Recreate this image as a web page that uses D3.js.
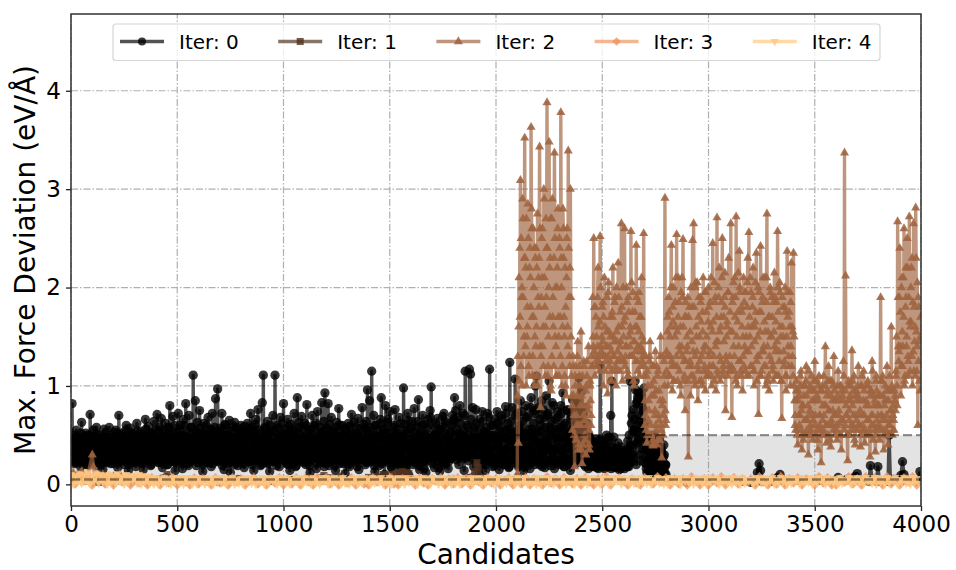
<!DOCTYPE html>
<html>
<head>
<meta charset="utf-8">
<title>Max. Force Deviation</title>
<script src="https://cdn.jsdelivr.net/npm/d3@7"></script>
<style>
  html, body { margin: 0; padding: 0; background: #fff; }
  svg { display: block; font-family: "DejaVu Sans", sans-serif; }
</style>
</head>
<body>
<div id="root"></div>
<script>
const xTicks = [0, 500, 1000, 1500, 2000, 2500, 3000, 3500, 4000];
const yTicks = [0, 1, 2, 3, 4];
const seriesLabels = ["Iter: 0", "Iter: 1", "Iter: 2", "Iter: 3", "Iter: 4"];
const seriesColors = ["#000000", "#50321f", "#9f6440", "#ef955f", "#ffc77f"];
const bandLow = 0.05;
const bandHigh = 0.5;

// iter 0: one value every 5 candidates, one row = 100 candidates
const iter0Values = [
  .38,.82,.30,.45,.22,.55,.34,.27,.48,.18,.63,.31,.42,.24,.52,.36,.20,.47,.71,.29,
  .33,.55,.24,.42,.58,.19,.37,.50,.27,.44,.15,.56,.31,.39,.22,.48,.58,.26,.35,.46,
  .21,.43,.55,.30,.17,.70,.38,.26,.52,.33,.20,.46,.60,.28,.14,.41,.57,.34,.23,.50,
  .37,.18,.62,.29,.45,.22,.54,.35,.15,.48,.66,.31,.25,.59,.40,.19,.52,.36,.64,.27,
  .44,.71,.23,.55,.34,.67,.17,.49,.30,.62,.41,.20,.58,.80,.26,.46,.69,.33,.14,.53,
  .38,.72,.24,.60,.43,.16,.66,.31,.82,.49,.21,.70,.36,.58,.27,1.11,.47,.85,.19,.63,
  .40,.75,.28,.53,.13,.62,.35,.46,.22,.68,.31,.56,.18,.72,.42,.26,.87,.50,.97,.33,
  .57,.24,.72,.40,.15,.61,.34,.50,.21,.65,.12,.44,.58,.30,.63,.26,.47,.19,.55,.37,
  .60,.28,.45,.17,.54,.35,.62,.23,.49,.72,.31,.58,.14,.43,.66,.27,.76,.38,.52,.20,
  .83,1.11,.34,.57,.22,.64,.41,.13,.55,.29,.70,.37,1.11,.25,.60,.46,.18,.68,.32,.52,
  .82,.30,.56,.21,.66,.39,.14,.61,.27,.50,.72,.35,.19,.88,.44,.58,.24,.69,.33,.48,
  .62,.20,.81,.37,.55,.12,.47,.70,.29,.60,.40,.16,.74,.34,.53,.23,.83,.43,.64,.93,
  .31,.57,.82,.19,.46,.68,.26,.54,.38,.14,.63,.33,.77,.21,.49,.60,.28,.42,.11,.55,
  .36,.62,.18,.50,.71,.30,.44,.23,.58,.34,.67,.15,.47,.26,.78,.40,.56,.20,.64,.96,
  .52,.85,.24,1.15,.41,.70,.13,.60,.33,.48,.19,.66,.88,.28,.55,.10,.80,.38,.63,.22,
  .74,.45,.16,.58,.30,.76,.21,.52,.36,.68,.13,.48,.25,.98,.61,.18,.40,.72,.09,.56,
  .33,.64,.20,.77,.44,.27,.58,.86,.15,.50,.36,.70,.23,.61,.12,.46,.66,.30,.75,.99,
  .38,.60,.17,.52,.28,.67,.42,.13,.56,.32,.69,.72,.22,.48,.62,.16,.40,.54,.26,.70,
  .64,.88,.75,.36,.68,.20,.80,.50,.28,.72,.14,1.15,.44,.60,.24,1.17,1.12,.34,.78,.18,
  .58,.76,.30,.48,.11,.66,.38,.74,.21,.54,.14,.43,.72,.27,1.17,.35,.60,.18,.50,.66,
  .28,.74,.42,.15,.58,.70,.33,.48,.20,.79,.36,.62,.17,1.24,.50,.78,.25,.45,1.07,.30,
  .72,.18,.56,.85,.34,.64,.14,.48,.80,.26,.69,.38,.16,.88,.52,.30,.75,1.00,1.10,.42,
  .78,.20,.60,.85,.31,.68,.17,.90,.45,.72,1.05,.24,.55,.83,.36,.16,.66,.47,.74,.22,
  .58,.80,.34,.93,.18,.62,.44,.75,.25,.50,.14,.70,.86,.38,.60,.21,.82,.46,1.08,.66,
  .30,.95,.55,.20,.78,.40,.62,.16,.48,.32,.42,.19,.36,.24,.46,.17,.38,.28,1.21,.44,
  .22,.40,.16,.34,.50,.25,.44,.18,.70,1.05,.30,.48,.17,.36,.26,.42,.15,.30,.38,.20,
  .28,.16,.35,.22,.44,.18,1.05,.26,.70,.38,.55,1.05,.20,.84,.46,.64,.24,.90,.36,.58,
  .22,.48,.12,.36,.08,.44,.20,.30,.10,.50,.16,.38,.07,.28,.46,.14,.32,.09,.40,.18
];
// the thick body of iter 0, candidates offset by 2 from the row above
const iter0BodyA = [
  .42,.28,.50,.21,.36,.46,.25,.40,.31,.52,.23,.44,.33,.48,.20,.38,.50,.27,.43,.34,
  .49,.22,.37,.30,.51,.26,.41,.47,.20,.35,.45,.29,.52,.24,.39,.32,.46,.21,.50,.36,
  .27,.53,.33,.44,.22,.40,.50,.28,.36,.47,.24,.55,.31,.42,.20,.48,.35,.52,.26,.38,
  .45,.23,.54,.34,.41,.28,.50,.21,.46,.37,.56,.25,.43,.32,.52,.20,.48,.39,.27,.55,
  .33,.47,.22,.58,.38,.44,.26,.53,.30,.49,.20,.57,.36,.42,.24,.51,.34,.60,.22,.46,
  .40,.28,.55,.21,.48,.35,.60,.25,.43,.52,.19,.46,.37,.58,.30,.41,.24,.54,.33,.49,
  .22,.57,.36,.44,.20,.51,.29,.60,.39,.25,.47,.34,.55,.21,.42,.58,.31,.48,.23,.53,
  .38,.45,.19,.56,.32,.60,.27,.43,.50,.22,.37,.54,.29,.46,.20,.58,.35,.41,.25,.52,
  .30,.47,.21,.59,.38,.26,.53,.44,.33,.56,.20,.49,.36,.61,.24,.42,.31,.55,.19,.46,
  .39,.27,.58,.34,.50,.21,.45,.60,.30,.37,.23,.54,.42,.19,.57,.33,.48,.26,.62,.40,
  .24,.51,.36,.45,.20,.59,.32,.49,.27,.55,.41,.18,.53,.38,.63,.25,.46,.34,.57,.22,
  .43,.60,.29,.50,.19,.37,.56,.26,.47,.35,.62,.21,.44,.31,.58,.24,.52,.40,.18,.55,
  .33,.48,.22,.61,.39,.27,.54,.43,.19,.58,.35,.46,.25,.60,.30,.50,.21,.41,.56,.28,
  .47,.20,.59,.37,.44,.24,.63,.32,.52,.18,.49,.38,.57,.26,.42,.61,.30,.46,.22,.55,
  .35,.58,.23,.48,.40,.19,.60,.31,.54,.27,.45,.62,.21,.50,.36,.57,.24,.43,.66,.29,
  .52,.18,.47,.38,.60,.25,.44,.56,.20,.33,.62,.28,.49,.37,.17,.55,.41,.65,.23,.46,
  .58,.30,.42,.22,.53,.36,.64,.19,.48,.27,.60,.39,.16,.51,.32,.57,.24,.44,.68,.35,
  .21,.50,.40,.62,.26,.46,.17,.55,.33,.59,.38,.20,.64,.29,.47,.23,.52,.42,.60,.30,
  .66,.36,.25,.56,.44,.28,.62,.34,.50,.26,.70,.38,.28,.58,.42,.30,.66,.48,.26,.54,
  .36,.62,.24,.46,.18,.56,.32,.64,.27,.44,.20,.58,.36,.68,.23,.50,.30,.60,.19,.46,
  .38,.62,.22,.54,.30,.66,.20,.48,.35,.72,.25,.56,.18,.44,.64,.28,.52,.36,.70,.24,
  .46,.20,.60,.33,.74,.26,.50,.18,.68,.38,.56,.22,.78,.30,.46,.62,.20,.72,.36,.54,
  .26,.66,.42,.18,.76,.34,.58,.22,.70,.40,.50,.19,.64,.32,.80,.24,.56,.38,.68,.20,
  .48,.72,.28,.60,.18,.54,.36,.76,.24,.44,.66,.20,.58,.32,.74,.26,.52,.40,.80,.30,
  .64,.22,.72,.36,.18,.58,.28,.50,.20,.38,.26,.44,.18,.32,.24,.40,.16,.30,.46,.22,
  .34,.18,.44,.26,.36,.20,.48,.28,.16,.38,.22,.30,.18,.26,.36,.20,.28,.16,.24,.32,
  .20,.30,.18,.26,.36,.50,.22,.62,.30,.76,.66,.96,.52,.88,.44,.92,.60,.80,.74,.98,
  .36,.16,.42,.26,.12,.34,.46,.18,.28,.40,.10,.32,.22,.44,.14,.36,.24,.12,.30,.20
];
// candidates offset by 4, the core of the blob
const iter0BodyB = [
  .30,.44,.24,.36,.48,.28,.40,.22,.34,.46,.30,.42,.26,.38,.49,.24,.33,.44,.29,.37,
  .45,.26,.40,.32,.22,.47,.36,.29,.43,.25,.38,.48,.30,.23,.41,.34,.27,.46,.32,.24,
  .38,.48,.28,.35,.42,.23,.46,.31,.26,.40,.36,.49,.24,.33,.44,.28,.38,.22,.47,.30,
  .26,.41,.36,.50,.24,.32,.44,.28,.38,.23,.47,.34,.27,.42,.30,.49,.25,.37,.44,.31,
  .46,.26,.38,.33,.22,.49,.35,.28,.43,.24,.40,.31,.50,.27,.36,.45,.23,.39,.32,.47,
  .28,.42,.35,.24,.50,.31,.38,.26,.46,.33,.41,.23,.48,.29,.37,.44,.25,.52,.34,.28,
  .43,.31,.24,.47,.36,.27,.40,.50,.22,.35,.45,.29,.38,.26,.52,.33,.42,.24,.48,.31,
  .27,.39,.46,.32,.23,.50,.36,.28,.43,.34,.25,.48,.38,.30,.44,.22,.41,.52,.29,.36,
  .46,.25,.39,.33,.50,.27,.43,.31,.23,.47,.36,.29,.53,.24,.40,.34,.45,.26,.38,.30,
  .22,.48,.35,.27,.44,.31,.52,.25,.41,.37,.29,.46,.23,.39,.50,.32,.27,.43,.35,.48,
  .30,.42,.24,.37,.46,.28,.53,.34,.22,.40,.47,.31,.26,.44,.36,.50,.29,.23,.41,.34,
  .48,.27,.39,.32,.45,.24,.52,.36,.28,.43,.30,.47,.25,.38,.50,.33,.22,.42,.29,.37,
  .44,.26,.35,.50,.31,.41,.24,.47,.33,.28,.39,.53,.27,.36,.45,.23,.40,.32,.48,.29,
  .34,.43,.25,.38,.51,.30,.27,.46,.36,.24,.42,.33,.49,.28,.37,.45,.23,.40,.31,.47,
  .26,.39,.44,.32,.24,.50,.36,.28,.42,.34,.47,.23,.38,.30,.45,.26,.52,.33,.41,.27,
  .36,.48,.24,.43,.31,.50,.28,.37,.22,.44,.33,.47,.26,.40,.30,.53,.25,.38,.46,.32,
  .27,.42,.35,.49,.23,.39,.31,.45,.28,.52,.36,.24,.43,.33,.48,.26,.40,.30,.46,.34,
  .42,.28,.50,.33,.24,.44,.37,.29,.46,.22,.40,.52,.31,.36,.26,.47,.34,.42,.28,.38,
  .48,.38,.30,.44,.52,.36,.46,.30,.42,.54,.34,.46,.38,.30,.50,.40,.32,.44,.36,.48,
  .32,.44,.28,.38,.24,.46,.34,.50,.26,.40,.30,.52,.24,.36,.46,.28,.42,.22,.38,.48,
  .26,.44,.36,.22,.50,.30,.42,.26,.54,.34,.46,.24,.38,.56,.30,.44,.22,.36,.48,.28,
  .40,.54,.24,.36,.46,.22,.52,.32,.42,.26,.48,.34,.22,.56,.38,.28,.44,.52,.24,.36,
  .46,.28,.54,.34,.22,.42,.50,.30,.40,.24,.58,.36,.46,.26,.34,.52,.22,.44,.30,.48,
  .36,.24,.56,.42,.28,.38,.50,.22,.46,.32,.54,.26,.40,.36,.24,.48,.30,.58,.38,.26,
  .46,.30,.40,.24,.34,.28,.22,.38,.26,.18,.32,.24,.36,.20,.30,.26,.22,.34,.28,.18,
  .26,.32,.22,.28,.18,.34,.24,.20,.30,.26,.18,.36,.24,.20,.30,.18,.26,.22,.28,.20,
  .26,.20,.32,.18,.28,.22,.40,.30,.24,.54,.56,.82,.42,.94,.30,.70,.86,.54,.76,.62,
  .28,.20,.34,.14,.26,.38,.18,.30,.12,.24,.36,.18,.28,.14,.32,.22,.16,.28,.12,.20
];
const iter0TailCandidates = [2800,2815,2900,3000,3157,3200,3225,3230,3238,3245,3252,3300,3325,3337,3350,3430,3517,3530,3610,3650,3690,3700,3710,3755,3762,3770,3790,3797,3805,3845,3850,3856,3870,3900,3905,3913,3920,3925,3985,3995];
const iter0TailValues = [.10,.03,.02,.02,.03,.02,.03,.12,.21,.14,.03,.03,.07,.10,.04,.04,.05,.04,.07,.05,.08,.11,.04,.03,.19,.05,.03,.18,.03,.03,.50,.03,.05,.04,.09,.23,.10,.04,.03,.13];

const iter1Candidates = [0,60,130,200,290,370,452,520,610,700,790,860,930,1030,1120,1190,1270,1340,1400,1437,1470,1530,1545,1560,1575,1590,1620,1700,1790,1860,1900,1910,1915,1930,2000,2080,2105,2120];
const iter1Values = [.03,.06,.02,.07,.04,.05,.10,.03,.05,.02,.06,.04,.03,.05,.07,.09,.08,.03,.07,.08,.10,.11,.12,.13,.12,.11,.05,.04,.06,.07,.12,.22,.17,.06,.04,.05,.08,.03];

const iter2HeadCandidates = [10,30,50,65,80,100,105,115,150,170,200,230,260,400,700,1000,1500,1900,2095];
const iter2HeadValues = [.12,.10,.13,.06,.10,.30,.18,.07,.10,.06,.08,.10,.05,.04,.03,.03,.05,.05,.03];
// iter 2: one value every 5 candidates from 2100, one row = 100 candidates
const iter2Values = [
  .10,.42,1.05,3.09,1.9,2.9,1.3,3.52,2.2,1.5,2.85,1.1,2.4,3.63,1.7,2.6,1.0,2.3,1.6,2.75,
  2.1,3.43,.78,2.5,1.4,3.0,1.8,2.7,3.88,1.2,3.48,2.3,.95,2.9,1.6,3.37,2.0,1.1,2.6,1.5,
  2.4,3.78,1.0,2.8,1.7,2.2,.9,2.6,3.39,1.3,3.0,1.1,.55,.9,.18,1.2,.6,1.45,.4,1.0,
  1.55,.21,.8,1.2,.45,1.0,.6,1.4,.35,.85,1.3,1.9,2.50,1.1,1.7,1.2,2.2,1.3,2.52,1.35,
  1.8,1.0,2.1,1.3,1.55,.92,2.05,1.4,1.7,1.15,2.2,1.3,1.9,1.0,1.45,2.25,1.25,1.75,2.65,1.05,
  1.5,2.6,1.3,2.0,1.1,1.75,1.4,2.57,1.3,1.95,1.0,1.6,2.43,1.25,1.85,1.1,1.4,2.1,1.3,2.55,
  .6,1.3,.42,1.0,.75,1.45,.5,1.2,.39,.9,1.35,.55,1.1,.7,.45,1.5,.27,.85,1.25,2.91,
  .65,1.3,1.0,1.75,1.3,2.43,.95,2.0,1.2,1.6,2.54,1.05,1.85,1.35,.9,2.1,2.49,1.25,.75,1.7,
  1.4,.28,1.8,.9,1.2,2.48,2.65,1.0,2.05,1.35,.85,1.9,1.25,1.65,1.0,2.1,1.4,.95,1.75,1.15,
  2.0,1.2,1.6,1.0,2.45,1.3,1.85,.95,2.71,1.45,2.2,1.05,1.7,2.5,1.2,1.9,.75,1.5,1.1,2.3,
  1.3,2.65,.68,1.9,1.15,1.7,2.72,1.0,2.15,2.37,1.25,1.8,.95,2.1,1.4,1.95,1.1,2.3,2.56,1.5,
  1.95,1.2,2.2,1.0,1.65,2.35,1.3,.71,1.75,2.42,1.15,1.9,1.4,2.1,1.0,2.75,1.55,.95,2.0,1.25,
  1.7,1.05,2.15,1.35,1.85,2.57,1.1,2.05,1.5,.67,1.8,1.2,2.0,.95,2.37,1.4,1.75,1.0,2.25,1.3,
  2.35,.85,.55,1.05,.4,.9,.7,1.15,.35,.8,1.0,.5,1.2,.65,.3,.95,.6,1.1,.45,.85,
  1.25,.5,.9,.35,1.1,.7,.22,1.0,.55,.8,1.40,.42,.95,1.2,.6,.38,1.05,.75,1.3,.5,
  .85,.45,1.15,.62,1.0,.35,.9,1.25,3.37,2.12,.7,.24,1.05,.5,.85,1.36,.6,1.1,.4,.95,
  .55,1.2,.7,.38,1.0,.6,1.15,.42,.85,.5,1.05,.65,.28,.95,1.25,.45,.8,.33,1.1,.58,
  .9,.45,1.90,.7,1.1,.35,.85,.55,1.2,.4,.95,.65,1.6,.5,.8,.95,.75,1.5,2.67,1.25,
  2.4,.9,2.1,1.4,2.6,1.1,1.9,2.5,1.25,2.72,1.6,2.2,1.0,2.65,1.45,2.81,1.15,.6,1.8,.95
];
// body of the iter 2 clusters, candidates offset by 2 from the row above
const iter2BodyA = [
  .9,1.6,2.4,1.2,2.0,2.7,1.5,2.3,1.0,1.8,2.5,1.3,2.1,2.8,1.1,1.7,2.4,1.4,2.2,1.0,
  1.8,2.6,1.3,2.1,1.6,2.9,1.1,1.9,2.4,1.5,2.2,1.0,2.7,1.7,1.2,2.5,1.4,2.0,2.8,1.1,
  1.7,2.3,1.2,2.6,1.5,1.0,2.1,1.6,2.4,1.2,1.9,.9,1.3,.7,1.1,.45,.9,.6,1.2,.8,
  .35,1.1,.7,.5,.95,1.25,.75,.4,1.05,.6,1.2,1.5,1.35,1.8,1.25,1.4,1.6,1.15,2.0,1.3,
  1.45,1.7,1.15,1.4,1.9,1.3,1.55,1.25,1.05,1.75,1.5,1.45,1.2,2.0,1.35,1.6,1.15,1.45,1.8,1.25,
  1.65,1.2,1.4,1.85,1.1,1.5,1.6,1.3,1.75,1.05,1.45,1.35,1.9,1.15,1.55,1.7,1.2,1.5,1.35,1.1,
  .85,.55,1.15,.65,1.25,.5,.9,.4,1.05,.7,.6,1.2,.45,.95,1.3,.6,.8,.5,1.1,.75,
  1.15,1.55,1.9,1.1,1.6,1.25,1.8,1.05,1.5,2.1,1.2,1.7,1.4,1.0,1.95,1.3,1.6,1.1,1.85,1.35,
  1.05,1.7,1.25,2.0,1.45,1.1,1.8,1.3,1.6,2.05,1.15,1.5,1.9,1.05,1.75,1.35,1.2,1.95,1.5,1.1,
  1.8,1.35,2.1,1.2,1.65,1.05,1.9,1.45,1.15,2.0,1.55,1.25,1.85,1.1,1.7,2.15,1.3,1.6,1.95,1.2,
  1.75,1.15,1.55,2.05,1.3,1.9,1.1,1.65,1.4,2.0,1.15,1.75,1.5,1.2,1.95,1.35,1.8,1.6,1.1,2.1,
  1.4,1.8,1.15,1.6,2.05,1.25,1.5,1.95,1.1,1.75,1.35,2.1,1.2,1.55,1.85,1.05,1.7,1.3,1.95,1.5,
  1.15,1.85,1.4,1.65,1.1,2.0,1.35,1.6,1.05,1.9,1.5,1.25,1.75,1.1,1.95,1.3,1.6,1.85,1.2,1.55,
  1.0,.6,.85,.5,.95,.7,1.1,.55,.8,.45,1.0,.65,.9,.5,1.15,.75,.55,.95,.7,1.05,
  .6,.85,.45,1.0,.7,.55,.95,.65,1.1,.5,.8,.6,1.05,.75,.45,.9,.6,1.0,.7,.85,
  .55,1.0,.7,.85,.5,.95,.65,1.1,.6,.8,.5,1.0,.75,.9,.55,1.05,.7,.45,.9,.65,
  1.0,.6,.85,.5,1.1,.7,.95,.55,.8,.65,1.0,.5,.9,.7,1.15,.6,.85,.5,.95,.7,
  .8,.55,1.05,.65,.9,.5,1.0,.7,.85,.6,1.1,.75,.95,.55,.65,.85,1.15,1.0,1.9,1.35,
  1.75,1.2,1.55,2.1,1.0,1.8,1.4,2.2,1.1,1.65,2.0,1.3,1.85,1.15,1.6,2.3,1.4,1.9,1.05,1.5
];
// second body layer, candidates offset by 3
const iter2BodyB = [
  1.3,2.1,1.7,2.5,1.0,1.9,2.3,1.4,2.7,1.6,1.2,2.2,1.8,2.6,1.3,2.0,1.5,2.4,1.1,1.9,
  2.3,1.4,1.9,2.6,1.2,2.1,1.6,2.4,1.1,2.0,1.7,2.7,1.3,1.9,2.3,1.5,1.1,2.2,1.7,2.5,
  1.3,2.0,1.6,2.3,1.1,1.8,2.5,1.4,1.9,2.2,1.5,.8,1.2,.5,1.0,.7,1.3,.35,1.1,.6,
  .9,.4,1.25,.65,.3,1.1,.8,.55,1.0,.7,1.2,1.4,1.8,1.3,1.5,1.9,1.25,1.65,1.4,1.5,
  1.85,1.3,1.6,1.25,1.4,1.95,1.2,1.5,1.35,1.7,1.3,1.85,1.15,1.55,1.25,1.9,1.4,1.3,1.6,2.0,
  1.25,1.7,1.4,1.15,1.9,1.3,1.55,2.05,1.3,1.45,1.75,1.25,1.6,1.4,1.95,1.35,1.7,1.25,1.45,1.2,
  .7,1.1,.5,.85,1.3,.6,1.0,.45,1.2,.75,.95,.4,1.15,.65,.85,.55,1.3,.7,1.0,.6,
  1.35,1.7,1.1,1.5,2.0,1.2,1.65,1.05,1.85,1.3,1.55,2.1,1.15,1.6,1.4,1.9,1.05,1.7,1.25,1.5,
  1.9,1.2,1.55,1.1,1.8,1.35,1.05,2.0,1.5,1.2,1.7,1.05,1.85,1.3,1.55,1.15,1.95,1.4,1.1,1.65,
  1.3,1.85,1.1,1.55,1.2,2.05,1.4,1.7,1.1,1.9,1.3,1.6,2.1,1.15,1.45,1.8,1.25,1.65,1.95,1.15,
  1.55,1.2,1.85,1.4,2.1,1.05,1.5,1.75,1.25,1.95,1.1,1.6,1.3,1.85,1.15,1.5,2.05,1.35,1.7,1.2,
  1.6,1.9,1.15,1.45,1.75,1.05,2.0,1.3,1.55,1.1,1.85,1.35,1.65,1.2,2.1,1.4,1.1,1.7,1.5,1.9,
  1.2,1.55,1.9,1.1,1.45,1.75,1.25,1.95,1.05,1.6,1.35,1.8,1.1,1.5,1.7,1.2,1.95,1.4,1.6,1.1,
  1.5,.7,.95,.55,.85,.6,1.0,.75,.5,.9,.65,1.05,.55,.8,.7,1.0,.5,.85,.65,.95,
  .7,1.05,.55,.85,.6,.95,.5,.8,.7,1.0,.6,.9,.5,.75,1.05,.65,.85,.55,.95,.7,
  .6,.9,.75,.5,1.0,.65,.85,.55,.95,.7,.5,.85,.65,1.0,.6,.8,.95,.55,.7,.85,
  .9,.6,.75,1.0,.55,.85,.7,.5,1.0,.65,.8,.55,.95,.6,.7,.9,.55,1.05,.65,.8,
  .6,.9,.7,1.05,.55,.8,.65,.95,.5,.85,.6,.75,1.0,.7,.55,.9,1.1,.8,1.4,1.9,
  1.4,2.0,1.2,1.7,1.05,2.2,1.5,1.3,1.9,1.15,1.65,2.3,1.35,1.8,1.1,1.55,2.05,1.25,1.45,1.7
];

// iter 3: one value every 20 candidates, one row = 200 candidates
const iter3Values = [
  .08,.00,.10,.03,.09,-.01,.11,.05,.00,.09,
  -.01,.08,.02,.07,-.01,.07,.01,.06,-.01,.07,
  .03,-.01,.06,.01,.07,-.01,.05,.02,-.01,.07,
  .00,.06,.03,-.01,.07,.01,.05,-.01,.07,.02,
  .06,-.01,.04,.07,.00,.03,-.01,.06,.01,.07,
  -.01,.05,.00,.07,-.01,.06,.02,-.01,.07,.03,
  .07,.00,.04,-.01,.06,.01,.07,-.01,.05,.00,
  -.01,.07,.02,.05,-.01,.07,.00,-.01,.06,.03,
  .05,-.01,.07,.01,-.01,.06,.03,.07,-.01,.04,
  .00,.07,.00,.06,-.01,.05,.02,-.01,.07,.01,
  .06,-.01,.04,.07,-.01,.05,.00,.07,-.01,.06,
  .02,-.01,.08,.01,.06,-.01,.07,.03,.00,.06,
  -.01,.07,.02,-.01,.06,.00,.08,-.01,.05,.07,
  .03,-.01,.06,.01,-.01,.07,.04,.00,.08,.02,
  .07,-.01,.06,.00,.06,-.01,.08,.03,-.01,.06,
  -.01,.07,.01,.08,-.01,.05,.07,.00,.06,.02,
  .06,-.01,.08,.02,-.01,.07,.00,.08,-.01,.06,
  .01,.07,-.01,.06,.03,-.01,.08,.01,.07,-.01,
  -.01,.06,.02,.08,.00,.06,-.01,.08,.02,.07,
  .04,-.01,.08,.00,.06,-.01,.07,.02,.08,-.01
];
// iter 4: one value every 10 candidates, one row = 200 candidates
const iter4Values = [
  .10,.00,.09,.02,.11,.01,.10,.03,.12,.00,.09,.04,.11,.01,.10,.03,.09,.00,.10,.02,
  .09,.01,.11,.03,.08,.00,.10,.02,.09,.04,.08,.01,.10,.00,.09,.03,.08,.01,.07,.00,
  .07,.00,.06,.02,.07,.01,.06,.00,.07,.03,.06,.01,.07,.00,.06,.02,.07,.00,.06,.01,
  .07,.02,.06,.00,.07,.01,.05,.00,.07,.02,.06,.01,.07,.00,.06,.03,.07,.00,.05,.01,
  .06,.00,.07,.02,.06,.01,.07,.00,.05,.02,.07,.00,.06,.01,.07,.03,.06,.00,.07,.01,
  .06,.01,.07,.00,.05,.02,.07,.01,.06,.00,.07,.02,.06,.00,.07,.01,.05,.00,.07,.03,
  .07,.00,.06,.01,.07,.02,.06,.00,.07,.01,.05,.00,.06,.02,.07,.00,.06,.01,.07,.03,
  .06,.00,.07,.01,.06,.02,.07,.00,.05,.01,.07,.00,.06,.03,.07,.01,.06,.00,.07,.02,
  .05,.01,.07,.00,.06,.02,.07,.01,.06,.00,.07,.03,.05,.00,.07,.01,.06,.02,.07,.00,
  .07,.01,.06,.00,.07,.02,.05,.01,.07,.00,.06,.03,.07,.00,.06,.01,.07,.02,.06,.00,
  .06,.02,.07,.00,.05,.01,.07,.03,.06,.00,.07,.01,.06,.02,.07,.00,.05,.01,.07,.00,
  .07,.00,.06,.02,.07,.01,.06,.00,.07,.03,.05,.01,.07,.00,.06,.02,.07,.00,.06,.01,
  .06,.01,.07,.00,.06,.03,.07,.01,.05,.00,.07,.02,.06,.00,.07,.01,.06,.03,.07,.00,
  .07,.02,.05,.00,.07,.01,.06,.00,.07,.02,.06,.01,.07,.00,.05,.03,.07,.01,.06,.00,
  .06,.00,.07,.01,.06,.02,.07,.00,.06,.03,.07,.01,.05,.00,.07,.02,.06,.01,.07,.00,
  .07,.01,.06,.03,.07,.00,.05,.02,.07,.01,.06,.00,.07,.02,.06,.00,.07,.01,.05,.03,
  .05,.00,.07,.02,.06,.01,.07,.00,.06,.03,.07,.00,.05,.01,.07,.02,.06,.00,.07,.01,
  .07,.03,.06,.00,.07,.01,.05,.02,.07,.00,.06,.01,.07,.03,.06,.00,.07,.02,.05,.01,
  .06,.00,.07,.01,.05,.03,.07,.00,.06,.02,.07,.01,.06,.00,.07,.03,.05,.01,.07,.00,
  .07,.02,.06,.00,.07,.01,.06,.03,.07,.00,.05,.02,.07,.01,.06,.00,.07,.02,.06,.01
];

const width = 956, height = 570;
const margin = { left: 71, right: 35, top: 14, bottom: 64 };

const x = d3.scaleLinear().domain([0, 4000]).range([margin.left, width - margin.right]);
const y = d3.scaleLinear().domain([-0.22, 4.78]).range([height - margin.bottom, margin.top]);

function pairs(cands, vals) {
  return cands.map((c, i) => [c, vals[i]]);
}

const iter0Points = pairs(d3.range(0, 2800, 5), iter0Values)
  .concat(pairs(d3.range(2, 2800, 5), iter0BodyA))
  .concat(pairs(d3.range(4, 2800, 5), iter0BodyB))
  .concat(pairs(iter0TailCandidates, iter0TailValues))
  .sort((a, b) => a[0] - b[0]);

const iter2Points = pairs(iter2HeadCandidates, iter2HeadValues)
  .concat(pairs(d3.range(2100, 4000, 5), iter2Values))
  .concat(pairs(d3.range(2102, 4000, 5), iter2BodyA))
  .concat(pairs(d3.range(2103, 4000, 5), iter2BodyB))
  .sort((a, b) => a[0] - b[0]);

const diamond = { draw(ctx, size) {
  const r = Math.sqrt(size / 2);
  ctx.moveTo(0, -r); ctx.lineTo(r, 0); ctx.lineTo(0, r); ctx.lineTo(-r, 0); ctx.closePath();
} };

const series = [
  { marker: d3.symbolCircle, size: 68, lw: 3.4, alpha: 0.78, points: iter0Points },
  { marker: d3.symbolSquare, size: 50, lw: 3.4, alpha: 0.8, points: pairs(iter1Candidates, iter1Values) },
  { marker: d3.symbolTriangle, size: 36, lw: 3.4, alpha: 0.88, points: iter2Points },
  { marker: diamond, size: 38, lw: 3.4, alpha: 0.8, points: pairs(d3.range(0, 4000, 20), iter3Values) },
  { marker: d3.symbolTriangle, flip: true, size: 30, lw: 3.4, alpha: 0.8, points: pairs(d3.range(0, 4000, 10), iter4Values) }
];

const svg = d3.select("#root").append("svg")
  .attr("width", width)
  .attr("height", height);

svg.append("defs").append("clipPath").attr("id", "plot-clip").append("rect")
  .attr("x", x(0))
  .attr("y", y(4.78))
  .attr("width", x(4000) - x(0))
  .attr("height", y(-0.22) - y(4.78));

// grid
const grid = svg.append("g").attr("stroke", "#b0b0b0").attr("stroke-width", 1.2).attr("stroke-dasharray", "7 2 1.5 2");
grid.selectAll(".gx").data(xTicks).enter().append("line")
  .attr("x1", d => x(d)).attr("x2", d => x(d)).attr("y1", y(-0.22)).attr("y2", y(4.78));
grid.selectAll(".gy").data(yTicks).enter().append("line")
  .attr("x1", x(0)).attr("x2", x(4000)).attr("y1", d => y(d)).attr("y2", d => y(d));

const plot = svg.append("g").attr("clip-path", "url(#plot-clip)");

// shaded candidate window
plot.append("rect")
  .attr("x", x(0))
  .attr("width", x(4000) - x(0))
  .attr("y", y(bandHigh))
  .attr("height", y(bandLow) - y(bandHigh))
  .attr("fill", "#808080")
  .attr("fill-opacity", 0.22);

const lineGen = d3.line().x(d => x(d[0])).y(d => y(d[1]));

function symbolPath(s) {
  return d3.symbol().type(s.marker).size(s.size)();
}

series.forEach((s, i) => {
  const g = plot.append("g");
  g.append("path")
    .attr("d", lineGen(s.points))
    .attr("fill", "none")
    .attr("stroke", seriesColors[i])
    .attr("stroke-width", s.lw)
    .attr("stroke-opacity", 0.68)
    .attr("stroke-linejoin", "round");
  g.selectAll("path.mk").data(s.points).enter().append("path")
    .attr("class", "mk")
    .attr("d", symbolPath(s))
    .attr("transform", d => `translate(${x(d[0])},${y(d[1])})` + (s.flip ? " scale(1,-1)" : ""))
    .attr("fill", seriesColors[i])
    .attr("fill-opacity", s.alpha);
});

// dashed bounds
[bandHigh, bandLow].forEach(v => {
  plot.append("line")
    .attr("x1", x(0)).attr("x2", x(4000))
    .attr("y1", y(v)).attr("y2", y(v))
    .attr("stroke", "#000")
    .attr("stroke-opacity", 0.42)
    .attr("stroke-width", 2.4)
    .attr("stroke-dasharray", "9 4");
});

// axes
const xAxis = d3.axisBottom(x).tickValues(xTicks).tickFormat(d3.format("d")).tickSize(5).tickPadding(5);
const yAxis = d3.axisLeft(y).tickValues(yTicks).tickFormat(d3.format("d")).tickSize(5).tickPadding(5);

const gx = svg.append("g").attr("transform", `translate(0,${y(-0.22)})`).call(xAxis);
const gy = svg.append("g").attr("transform", `translate(${x(0)},0)`).call(yAxis);
[gx, gy].forEach(a => {
  a.selectAll("text").attr("font-family", "DejaVu Sans").attr("font-size", 23).attr("fill", "#000");
  a.selectAll(".tick line").attr("stroke", "#222").attr("stroke-width", 1.3);
  a.select(".domain").attr("stroke", "none");
});

svg.append("rect")
  .attr("x", x(0)).attr("y", y(4.78))
  .attr("width", x(4000) - x(0)).attr("height", y(-0.22) - y(4.78))
  .attr("fill", "none").attr("stroke", "#333").attr("stroke-width", 1.5);

svg.append("text")
  .attr("x", (x(0) + x(4000)) / 2).attr("y", 563.5)
  .attr("text-anchor", "middle").attr("font-size", 28)
  .text("Candidates");

svg.append("text")
  .attr("transform", `translate(35,${(y(-0.22) + y(4.78)) / 2}) rotate(-90)`)
  .attr("text-anchor", "middle").attr("font-size", 28)
  .text("Max. Force Deviation (eV/Å)");

// legend
const legend = svg.append("g");
legend.append("rect")
  .attr("x", 113).attr("y", 24).attr("width", 767).attr("height", 36.5).attr("rx", 3)
  .attr("fill", "#fff").attr("fill-opacity", 0.8)
  .attr("stroke", "#d5d5d5").attr("stroke-width", 1.2);

seriesLabels.forEach((label, i) => {
  const s = series[i];
  const g = legend.append("g").attr("transform", `translate(${120 + i * 158.2},41.5)`);
  g.append("line")
    .attr("x1", 0).attr("x2", 44)
    .attr("stroke", seriesColors[i]).attr("stroke-width", s.lw).attr("stroke-opacity", 0.68);
  g.append("path")
    .attr("d", d3.symbol().type(s.marker).size(i === 0 ? 50 : s.size)())
    .attr("transform", "translate(22,0)" + (s.flip ? " scale(1,-1)" : ""))
    .attr("fill", seriesColors[i]).attr("fill-opacity", s.alpha);
  g.append("text")
    .attr("x", 59).attr("y", 7)
    .attr("font-size", 20)
    .text(label);
});
</script>
</body>
</html>
